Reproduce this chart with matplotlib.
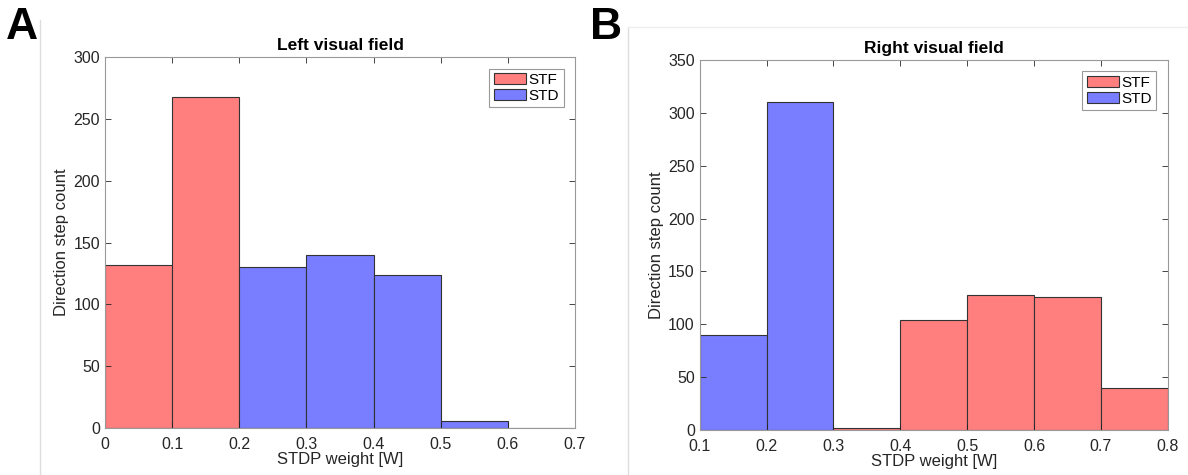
import numpy as np
import matplotlib.pyplot as plt
from matplotlib.patches import Patch
from matplotlib.lines import Line2D

plt.rcParams['font.family'] = ['Liberation Sans', 'DejaVu Sans']

# Left visual field histogram (bin edges 0..0.7, step 0.1)
left_edges = [0.0, 0.1, 0.2, 0.3, 0.4, 0.5, 0.6, 0.7]
left_counts = [132, 268, 130, 140, 124, 6, 0]
left_type = ['STF', 'STF', 'STD', 'STD', 'STD', 'STD', 'STD']

# Right visual field histogram (bin edges 0.1..0.8)
right_edges = [0.1, 0.2, 0.3, 0.4, 0.5, 0.6, 0.7, 0.8]
right_counts = [90, 310, 2, 104, 128, 126, 40]
right_type = ['STD', 'STD', 'STF', 'STF', 'STF', 'STF', 'STF']

colors = {'STF': '#ff7f7f', 'STD': '#797dff'}

fig = plt.figure(figsize=(11.88, 4.75), dpi=100)

# faint panel borders from the original figure
fig.add_artist(Line2D([40/1188, 40/1188], [0, 1 - 20/475], color='#dddddd', lw=1))
fig.add_artist(Line2D([628/1188, 628/1188], [0, 1 - 27/475], color='#dddddd', lw=1))
fig.add_artist(Line2D([628/1188, 1], [1 - 27/475, 1 - 27/475], color='#eeeeee', lw=1))


def panel(rect, edges, counts, types, title, ylim, yticks):
    ax = fig.add_axes(rect)
    e = np.array(edges)
    ax.bar(e[:-1], counts, width=np.diff(e), align='edge',
           color=[colors[t] for t in types], edgecolor='#333333', linewidth=0.8)
    ax.set_xlim(edges[0], edges[-1])
    ax.set_ylim(*ylim)
    ax.set_yticks(yticks)
    ax.set_xticks(edges)
    ax.set_xticklabels([('%g' % v) for v in edges])
    ax.tick_params(direction='in', top=True, right=True, labelsize=11.5,
                   colors='#262626', length=4, width=0.6)
    ax.tick_params(axis='x', pad=6.5)
    for s in ax.spines.values():
        s.set_color('#999999')
        s.set_linewidth(0.8)
    ax.set_title(title, fontsize=12.5, fontweight='bold', pad=5)
    ax.set_xlabel('STDP weight [W]', fontsize=12, color='#262626', labelpad=0)
    ax.set_ylabel('Direction step count', fontsize=12, color='#262626', labelpad=3)
    handles = [Patch(facecolor=colors['STF'], edgecolor='#333333', lw=0.8),
               Patch(facecolor=colors['STD'], edgecolor='#333333', lw=0.8)]
    leg = ax.legend(handles, ['STF', 'STD'], loc='upper right', fontsize=11,
                    fancybox=False, framealpha=1, edgecolor='#999999',
                    handlelength=2.1, handleheight=0.75, handletextpad=0.15,
                    borderpad=0.3, labelspacing=0.1, borderaxespad=0.75)
    leg.get_frame().set_linewidth(0.8)
    return ax


panel([0.0884, 0.0989, 0.3956, 0.781], left_edges, left_counts, left_type,
      'Left visual field', (0, 300), range(0, 301, 50))
panel([0.589, 0.0947, 0.394, 0.779], right_edges, right_counts, right_type,
      'Right visual field', (0, 350), range(0, 351, 50))

fig.text(0.005, 0.985, 'A', fontsize=32, fontweight='bold', va='top', ha='left')
fig.text(0.497, 0.985, 'B', fontsize=32, fontweight='bold', va='top', ha='left')

fig.savefig('out.png', dpi=100)
